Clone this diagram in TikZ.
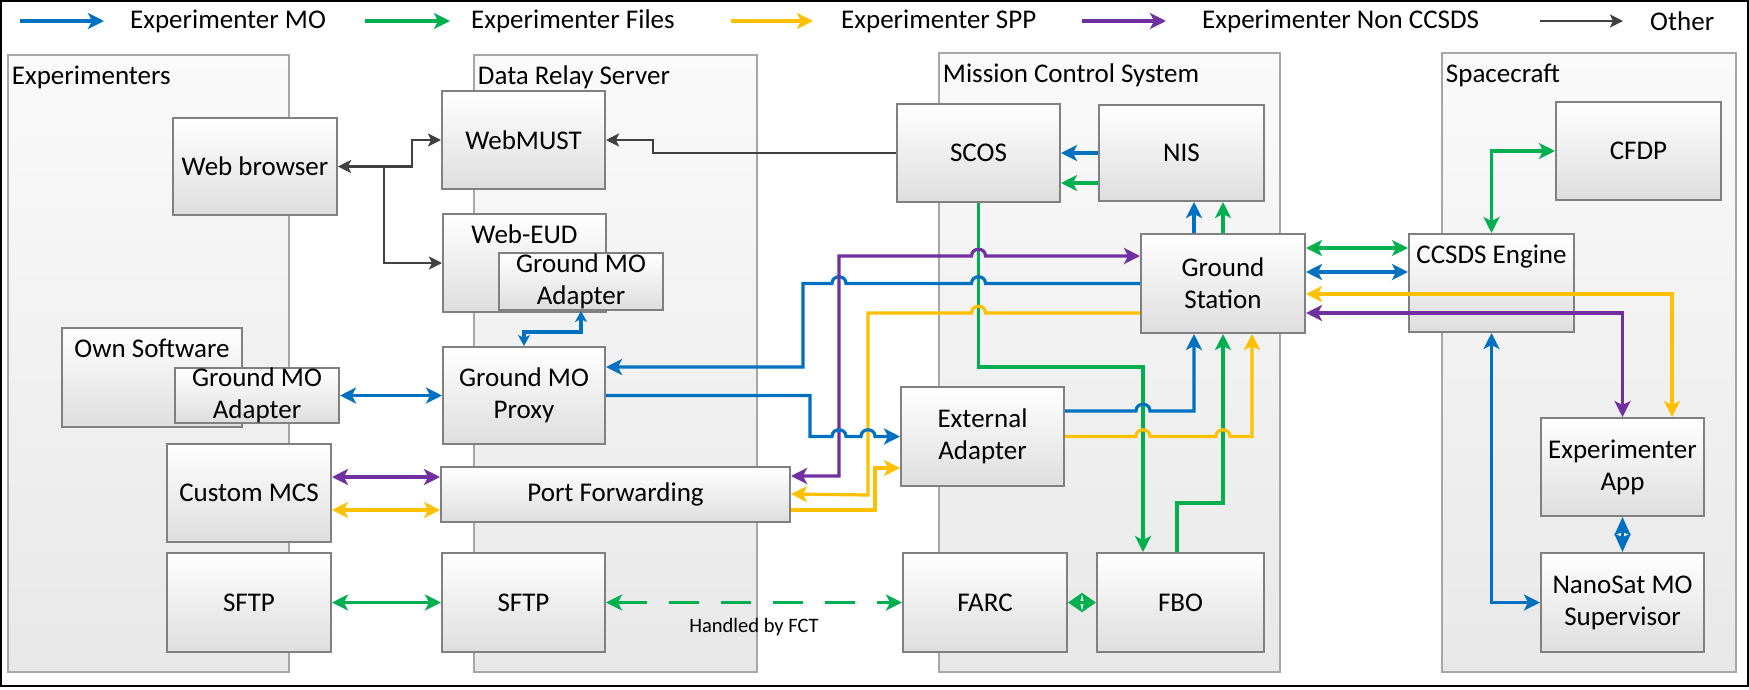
\documentclass[tikz,border=0pt]{standalone}
\usepackage{fontspec}
\setmainfont{Carlito}
\usetikzlibrary{arrows.meta}
\definecolor{cBlue}{HTML}{0070C0}
\definecolor{cGreen}{HTML}{00B050}
\definecolor{cYellow}{HTML}{FFC000}
\definecolor{cPurple}{HTML}{7030A0}
\definecolor{cBlack}{HTML}{404040}
\tikzset{
  Tc/.tip={Stealth[length=16pt,width=16pt,inset=4pt]},
  Tb/.tip={Stealth[length=13pt,width=13pt,inset=3pt]},
  Ts/.tip={Stealth[length=11pt,width=12pt,inset=3pt]},
  Td/.tip={Stealth[length=14pt,width=19pt,inset=2pt]},
  Tv/.tip={Stealth[length=18pt,width=16pt,inset=3pt]},
  cont/.style={draw=black!35, line width=2.5pt, top color=black!2, bottom color=black!9, inner sep=0pt},
  box/.style={draw=black!50, line width=2pt, top color=white, bottom color=black!13, inner sep=0pt, align=center},
  toplabel/.style={label={[anchor=north, inner sep=0pt, yshift=-12pt]north:#1}},
  contlabel/.style={label={[anchor=north west, inner sep=0pt, xshift=5pt, yshift=-12pt]north west:#1}},
  ln/.style={line width=3.2pt},
  bl/.style={ln, draw=cBlue},
  gr/.style={ln, draw=cGreen},
  yl/.style={ln, draw=cYellow},
  pu/.style={ln, draw=cPurple},
  bk/.style={line width=2.5pt, draw=cBlack},
  hopr/.style args={#1/#2}{insert path={-- ({#1-7},#2) .. controls ({#1-7},{#2-9}) and ({#1+7},{#2-9}) .. ({#1+7},#2)}},
  hopl/.style args={#1/#2}{insert path={-- ({#1+7},#2) .. controls ({#1+7},{#2-9}) and ({#1-7},{#2-9}) .. ({#1-7},#2)}},
  lg/.style={anchor=west, inner sep=0pt},
}
\begin{document}
\begin{tikzpicture}[x=1pt,y=-1pt,font=\fontsize{27}{32}\selectfont]
\useasboundingbox (0,0) rectangle (1749,689);
\fill[white] (0,0) rectangle (1749,689);
\draw[black, line width=1.5pt] (1,1) rectangle (1748,686);

% containers
\node[cont, minimum width=281pt, minimum height=617pt, contlabel=Experimenters] (cexp) at (148.5,363.5) {};
\node[cont, minimum width=283pt, minimum height=617pt, contlabel=Data Relay Server] (cdrs) at (615.5,363.5) {};
\node[cont, minimum width=341pt, minimum height=619pt, contlabel=Mission Control System] (cmcs) at (1109.5,362.5) {};
\node[cont, minimum width=294pt, minimum height=619pt, contlabel=Spacecraft] (csc) at (1589,362.5) {};

% boxes
\node[box, minimum width=164pt, minimum height=97pt] (browser) at (255,166.5) {Web browser};
\node[box, minimum width=163pt, minimum height=98pt] (webmust) at (523.5,140) {WebMUST};
\node[box, minimum width=163pt, minimum height=98pt, toplabel=Web-EUD] (webeud) at (524.5,263) {};
\node[box, minimum width=164pt, minimum height=57pt] (gmoa1) at (581,281.5) {Ground MO\\Adapter};
\node[box, minimum width=180pt, minimum height=99pt, toplabel=Own Software] (ownsw) at (152,377.5) {};
\node[box, minimum width=164pt, minimum height=55pt] (gmoa2) at (257,395.5) {Ground MO\\Adapter};
\node[box, minimum width=162pt, minimum height=97pt] (proxy) at (524,395.5) {Ground MO\\Proxy};
\node[box, minimum width=164pt, minimum height=98pt] (custom) at (249,493) {Custom MCS};
\node[box, minimum width=349pt, minimum height=55pt] (portfwd) at (615.5,494.5) {Port Forwarding};
\node[box, minimum width=164pt, minimum height=99pt] (sftp1) at (249,602.5) {SFTP};
\node[box, minimum width=163pt, minimum height=99pt] (sftp2) at (523.5,602.5) {SFTP};
\node[box, minimum width=163pt, minimum height=98pt] (scos) at (978.5,153) {SCOS};
\node[box, minimum width=165pt, minimum height=96pt] (nis) at (1181.5,153) {NIS};
\node[box, minimum width=164pt, minimum height=99pt] (gs) at (1223,283.5) {Ground\\Station};
\node[box, minimum width=163pt, minimum height=99pt] (extad) at (982.5,436.5) {External\\Adapter};
\node[box, minimum width=164pt, minimum height=99pt] (farc) at (985,602.5) {FARC};
\node[box, minimum width=167pt, minimum height=99pt] (fbo) at (1180.5,602.5) {FBO};
\node[box, minimum width=165pt, minimum height=98pt] (cfdp) at (1638.5,151) {CFDP};
\node[box, minimum width=165pt, minimum height=98pt, toplabel=CCSDS Engine] (ccsds) at (1491.5,283) {};
\node[box, minimum width=163pt, minimum height=98pt] (expapp) at (1622.5,467) {Experimenter\\App};
\node[box, minimum width=163pt, minimum height=99pt] (nanosat) at (1622.5,602.5) {NanoSat MO\\Supervisor};

% helper coordinates
\coordinate (j1) at (384,166.5);
\coordinate (pe1) at ([yshift=28.5pt]proxy.east);
\coordinate (gsn1) at ([xshift=-29pt]gs.north);
\coordinate (gsb1) at ([xshift=-29pt]gs.south);
\coordinate (gsb3) at ([xshift=29pt]gs.south);
\coordinate (ge1) at ([yshift=35.5pt]gs.east);
\coordinate (ge2) at ([yshift=11.5pt]gs.east);
\coordinate (ge3) at ([yshift=-10.5pt]gs.east);
\coordinate (ge4) at ([yshift=-29.5pt]gs.east);
\coordinate (gw3) at ([yshift=27.5pt]gs.west);
\coordinate (gw4) at ([yshift=-29.5pt]gs.west);
\coordinate (ea1) at ([yshift=-31.5pt]extad.west);
\coordinate (ea2) at ([yshift=25.5pt]extad.east);
\coordinate (pf1) at ([yshift=18.5pt]portfwd.east);
\coordinate (pf2) at ([yshift=0.5pt]portfwd.east);
\coordinate (pf3) at ([yshift=-15.5pt]portfwd.east);
\coordinate (cm1) at ([yshift=16pt]custom.east);
\coordinate (cm2) at ([yshift=-17pt]custom.east);
\coordinate (fb1) at ([xshift=-37.5pt]fbo.north);
\coordinate (fb2) at ([xshift=-3.5pt]fbo.north);
\coordinate (ns2) at ([yshift=-30pt]nis.west);
\coordinate (ap1) at ([xshift=49.5pt]expapp.north);

% black (other)
\draw[bk, Tb-Tb] (browser.east) -- (412,166.5) |- (webmust.west);
\draw[bk, -Tb] (j1) |- (webeud.west);
\draw[bk, -Tb] (scos.west) -- (653,153) |- (webmust.east);

% left side
\draw[bl, Tc-Tc] (gmoa2.east) -- (proxy.west);
\draw[pu, Tc-Tc] (cm1) -- (cm1 -| portfwd.west);
\draw[yl, Tc-Tc] (cm2) -- (cm2 -| portfwd.west);
\draw[gr, Tc-Tc] (sftp1.east) -- (sftp2.west);
\draw[gr, Tc-Tc, dash pattern=on 30pt off 22pt] (sftp2.east) -- node[midway, yshift=-25pt, font=\fontsize{20.5}{24}\selectfont] (fct) {Handled by FCT} (farc.west);
\draw[gr, Td-Td] (farc.east) -- (fbo.west);
\draw[bl, Ts-Ts] (proxy.north) -- ++(0,-14) -| (gmoa1.south);

% NIS / SCOS / GS
\draw[bl, -Tc] (nis.west) -- (scos.east);
\draw[gr, -Tc] (ns2) -- (ns2 -| scos.east);
\draw[bl, -Tc] (gsn1) -- (gsn1 |- nis.south);
\draw[gr, -Tc] (gs.north) -- (gs.north |- nis.south);

% GS <-> spacecraft
\draw[gr, Tc-Tc] (ge1) -- (ge1 -| ccsds.west);
\draw[bl, Tc-Tc] (ge2) -- (ge2 -| ccsds.west);
\draw[yl, Tc-Tc] (ge3) -| (ap1);
\draw[pu, Tc-Tc] (ge4) -| (expapp.north);
\draw[gr, Tc-Tc] (ccsds.north) |- (cfdp.west);
\draw[bl, Tc-Tc] (ccsds.south) |- (nanosat.west);
\draw[bl, Tv-Tv] (expapp.south) -- (nanosat.north);

% middle routing
\draw[gr, -Tc] (scos.south) -- (978.5,367) -- (1143,367) -- (fb1);
\draw[gr, -Tc] (fb2) -- (1177,503) -- (1223,503) -- (gs.south);
\draw[bl, -Tc] (gs.west) [hopl=978.5/283.5] [hopl=839/283.5] -- (803,283.5) |- (pe1);
\draw[pu, Tc-Tc] (pf1) -- (839,476) -- (839,256) [hopr=978.5/256] -- (gw3);
\draw[yl, -Tc] (gw4) [hopl=978.5/313] -- (868,313) -- (868,495) -- (pf2);
\draw[yl, -Tc] (pf3) -- (875,510) -- (875,468) -- (ea1);
\draw[bl, -Tc] (proxy.east) -- (810,395.5) -- (810,436.5) [hopr=839/436.5] [hopr=868/436.5] -- (extad.west);
\draw[bl, -Tc] (ea2) [hopr=1143/411] -- (1194,411) -- (gsb1);
\draw[yl, -Tc] (extad.east) [hopr=1143/436.5] [hopr=1223/436.5] -- (1252,436.5) -- (gsb3);

% legend
\node[lg] (lg1) at (130,21) {Experimenter MO};
\node[lg] (lg2) at (471,21) {Experimenter Files};
\node[lg] (lg3) at (841,21) {Experimenter SPP};
\node[lg] (lg4) at (1202,21) {Experimenter Non CCSDS};
\node[lg] (lg5) at (1650,21) {Other};
\draw[bl, -Tc] ([xshift=-110pt]lg1.west) -- ([xshift=-26pt]lg1.west);
\draw[gr, -Tc] ([xshift=-106pt]lg2.west) -- ([xshift=-21pt]lg2.west);
\draw[yl, -Tc] ([xshift=-110pt]lg3.west) -- ([xshift=-28pt]lg3.west);
\draw[pu, -Tc] ([xshift=-120pt]lg4.west) -- ([xshift=-36pt]lg4.west);
\draw[bk, -Tb] ([xshift=-110pt]lg5.west) -- ([xshift=-27pt]lg5.west);
\end{tikzpicture}
\end{document}
